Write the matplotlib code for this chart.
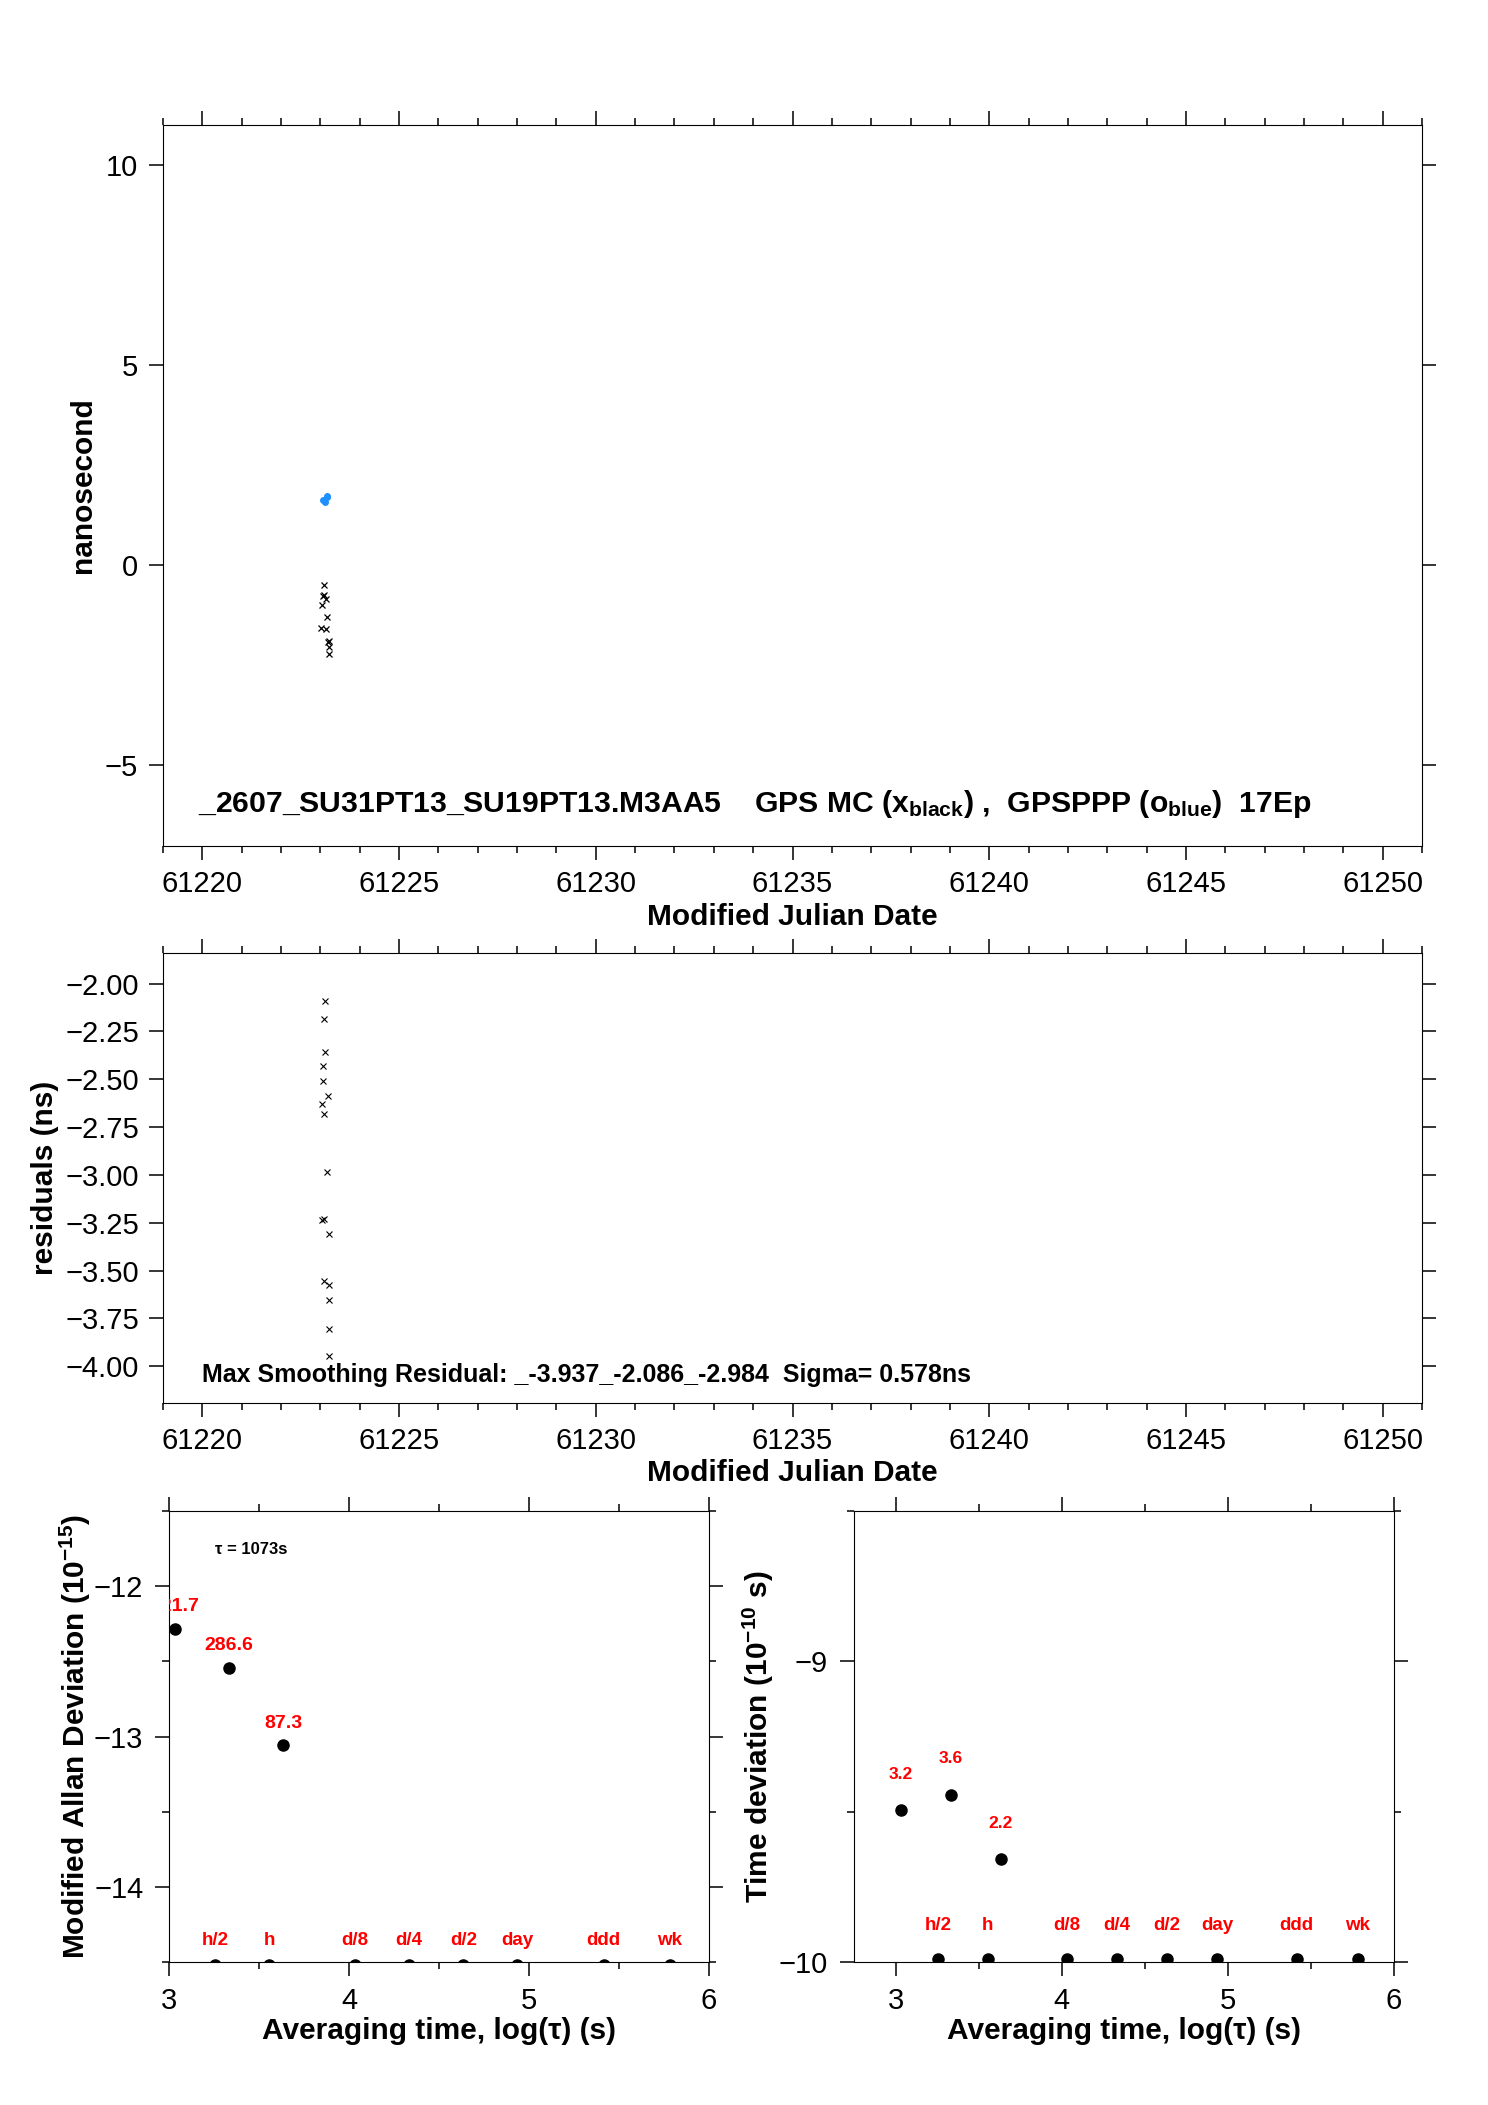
import matplotlib
matplotlib.use("Agg")
import matplotlib.pyplot as plt
from matplotlib.ticker import MultipleLocator, FuncFormatter

plt.rcParams['font.family'] = ['Liberation Sans', 'DejaVu Sans']
plt.rcParams['mathtext.fontset'] = 'custom'
plt.rcParams['mathtext.rm'] = 'Liberation Sans:bold'
plt.rcParams['mathtext.it'] = 'Liberation Sans:bold'
plt.rcParams['mathtext.bf'] = 'Liberation Sans:bold'
plt.rcParams['axes.linewidth'] = 0.8

# ---- data ----
# top panel: GPS MC (black x) and GPSPPP (blue o), nanosecond
mc_mjd = [61223.09, 61223.06, 61223.10, 61223.15, 61223.05, 61223.17,
          61223.02, 61223.15, 61223.21, 61223.19, 61223.23, 61223.23]
mc_ns = [-0.50, -0.77, -0.74, -0.84, -1.00, -1.30,
         -1.57, -1.59, -1.88, -1.92, -2.05, -2.21]
ppp_mjd = [61223.07, 61223.12, 61223.16, 61223.18]
ppp_ns = [1.62, 1.57, 1.70, 1.74]

# middle panel: smoothing residuals (ns)
res_mjd = [61223.13, 61223.10, 61223.13, 61223.07, 61223.07, 61223.20,
           61223.05, 61223.09, 61223.18, 61223.03, 61223.10, 61223.21,
           61223.10, 61223.23, 61223.23, 61223.21, 61223.23]
res_ns = [-2.089, -2.185, -2.355, -2.430, -2.508, -2.590,
          -2.628, -2.684, -2.987, -3.235, -3.231, -3.308,
          -3.554, -3.575, -3.653, -3.806, -3.945]

# bottom panels: log10(tau), log10(mdev), log10(tdev)
log_tau = [3.031, 3.332, 3.633]
log_mdev = [-12.283, -12.543, -13.059]
mdev_lbl = ['521.7', '286.6', '87.3']
log_tdev = [-9.495, -9.444, -9.658]
tdev_lbl = ['3.2', '3.6', '2.2']

# reference averaging times
ref_log_tau = [3.255, 3.556, 4.033, 4.334, 4.635, 4.936, 5.414, 5.782]
ref_lbl = ['h/2', 'h', 'd/8', 'd/4', 'd/2', 'day', 'ddd', 'wk']
ref_mdev_y = -14.52
ref_tdev_y = -9.99

W, H = 1488, 2105
fig = plt.figure(figsize=(W / 100, H / 100), dpi=100)


def box(l, t, r, b):
    return [l / W, 1 - b / H, (r - l) / W, (b - t) / H]


def fmt(spec):
    return FuncFormatter(lambda v, p: format(v, spec).replace('-', '\u2212'))


def style(ax, xpad=7.5, ypad=8):
    ax.tick_params(which='both', direction='out', top=True, right=True,
                   width=1.1, colors='black', labelsize=21)
    ax.tick_params(which='major', length=10)
    ax.tick_params(which='minor', length=5)
    ax.tick_params(axis='x', pad=xpad)
    ax.tick_params(axis='y', pad=ypad)


ax1 = fig.add_axes(box(163, 125, 1422, 845.5))
ax1.plot(mc_mjd, mc_ns, 'x', color='black', ms=5, mew=0.9)
ax1.plot(ppp_mjd, ppp_ns, 'o', color='#1e90ff', ms=5, mec='none')
ax1.set_xlim(61219, 61251)
ax1.set_ylim(-7, 11)
ax1.xaxis.set_major_locator(MultipleLocator(5))
ax1.xaxis.set_minor_locator(MultipleLocator(1))
ax1.xaxis.set_major_formatter(fmt('.0f'))
ax1.yaxis.set_major_locator(MultipleLocator(5))
ax1.yaxis.set_major_formatter(fmt('.0f'))
style(ax1)
ax1.set_xlabel('Modified Julian Date', fontsize=21.5, fontweight='bold')
ax1.set_ylabel('nanosecond', fontsize=21.5, fontweight='bold')
ax1.xaxis.set_label_coords(0.5, -0.080)
ax1.yaxis.set_label_coords(-0.0524, 0.5)
ax1.text(0.0278, 0.0465,
         '_2607_SU31PT13_SU19PT13.M3AA5    GPS MC (x$_{black}$) ,  '
         'GPSPPP (o$_{blue}$)  17Ep',
         transform=ax1.transAxes, fontsize=21.7, fontweight='bold',
         va='baseline', ha='left')

ax2 = fig.add_axes(box(163, 953, 1422, 1402.5))
ax2.plot(res_mjd, res_ns, 'x', color='black', ms=4.5, mew=0.8)
ax2.set_xlim(61219, 61251)
ax2.set_ylim(-4.19, -1.84)
ax2.xaxis.set_major_locator(MultipleLocator(5))
ax2.xaxis.set_minor_locator(MultipleLocator(1))
ax2.xaxis.set_major_formatter(fmt('.0f'))
ax2.yaxis.set_major_locator(MultipleLocator(0.25))
ax2.yaxis.set_major_formatter(fmt('.2f'))
style(ax2, ypad=7)
ax2.set_xlabel('Modified Julian Date', fontsize=21.5, fontweight='bold')
ax2.set_ylabel('residuals (ns)', fontsize=21.5, fontweight='bold')
ax2.xaxis.set_label_coords(0.5, -0.1263)
ax2.yaxis.set_label_coords(-0.0824, 0.5)
ax2.text(0.031, 0.046,
         'Max Smoothing Residual: _-3.937_-2.086_-2.984  Sigma= 0.578ns',
         transform=ax2.transAxes, fontsize=18, fontweight='bold',
         va='baseline', ha='left')

ax3 = fig.add_axes(box(169, 1511, 709, 1962))
ax3.plot(log_tau, log_mdev, 'o', color='black', ms=8)
ax3.plot(ref_log_tau, [ref_mdev_y] * len(ref_log_tau), 'o', color='black', ms=8)
for x, y, s in zip(log_tau, log_mdev, mdev_lbl):
    ax3.text(x, y + 0.145, s, color='red', fontsize=14, fontweight='bold',
             ha='center', va='center', clip_on=True)
for x, s in zip(ref_log_tau, ref_lbl):
    ax3.text(x, -14.355, s, color='red', fontsize=13.5, fontweight='bold',
             ha='center', va='center')
ax3.text(0.085, 0.915, '\u03c4 = 1073s', transform=ax3.transAxes,
         fontsize=12, fontweight='bold', va='center', ha='left')
ax3.set_xlim(3, 6)
ax3.set_ylim(-14.5, -11.5)
ax3.xaxis.set_major_locator(MultipleLocator(1))
ax3.xaxis.set_minor_locator(MultipleLocator(0.5))
ax3.yaxis.set_major_locator(MultipleLocator(1))
ax3.yaxis.set_minor_locator(MultipleLocator(0.5))
ax3.xaxis.set_major_formatter(fmt('.0f'))
ax3.yaxis.set_major_formatter(fmt('.0f'))
style(ax3, xpad=8, ypad=8.5)
ax3.set_xlabel('Averaging time, log(\u03c4) (s)', fontsize=21.5,
               fontweight='bold')
ax3.set_ylabel('Modified Allan Deviation (10$^{-15}$)', fontsize=21.5,
               fontweight='bold')
ax3.xaxis.set_label_coords(0.5, -0.122)
ax3.yaxis.set_label_coords(-0.1406, 0.5)

ax4 = fig.add_axes(box(854, 1511, 1394, 1962))
ax4.plot(log_tau, log_tdev, 'o', color='black', ms=8)
ax4.plot(ref_log_tau, [ref_tdev_y] * len(ref_log_tau), 'o', color='black', ms=8)
for x, y, s in zip(log_tau, log_tdev, tdev_lbl):
    ax4.text(x, y + 0.12, s, color='red', fontsize=12.5, fontweight='bold',
             ha='center', va='center', clip_on=True)
for x, s in zip(ref_log_tau, ref_lbl):
    ax4.text(x, -9.878, s, color='red', fontsize=13.5, fontweight='bold',
             ha='center', va='center')
ax4.set_xlim(2.75, 6)
ax4.set_ylim(-10, -8.5)
ax4.xaxis.set_major_locator(MultipleLocator(1))
ax4.xaxis.set_minor_locator(MultipleLocator(0.5))
ax4.yaxis.set_major_locator(MultipleLocator(1))
ax4.yaxis.set_minor_locator(MultipleLocator(0.5))
ax4.xaxis.set_major_formatter(fmt('.0f'))
ax4.yaxis.set_major_formatter(fmt('.0f'))
style(ax4, xpad=8, ypad=9)
ax4.set_xlabel('Averaging time, log(\u03c4) (s)', fontsize=21.5,
               fontweight='bold')
ax4.set_ylabel('Time deviation (10$^{-10}$ s)', fontsize=21.5,
               fontweight='bold')
ax4.xaxis.set_label_coords(0.5, -0.122)
ax4.yaxis.set_label_coords(-0.1444, 0.5)

fig.savefig('out.png', dpi=100)
